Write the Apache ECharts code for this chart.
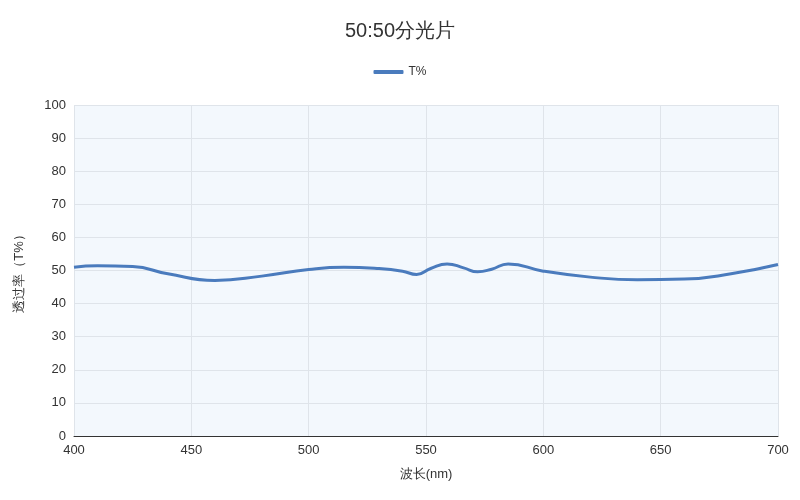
<!DOCTYPE html>
<html>
<head>
<meta charset="utf-8">
<script src="https://cdn.jsdelivr.net/npm/echarts@6/dist/echarts.min.js"></script>
<style>html,body{margin:0;padding:0;background:#fff}#chart{width:800px;height:500px}</style>
</head>
<body>
<div id="chart"></div>
<script>
// wavelength (nm) and transmittance (%)
var wavelengths = [400, 410, 425, 440, 460, 480, 500, 515, 530, 540, 546, 552, 559, 566, 572, 578, 585, 600, 620, 640, 660, 680, 700];
var transmission = [51, 51.4, 51.2, 49, 47, 48.3, 50.3, 51, 50.6, 49.8, 48.8, 50.6, 52, 50.8, 49.6, 50.4, 52, 49.8, 48, 47.2, 47.4, 49, 51.8];
var yTicks = [0, 10, 20, 30, 40, 50, 60, 70, 80, 90, 100];

var points = wavelengths.map(function(w, i) { return [w, transmission[i]]; });

var myChart = echarts.init(document.getElementById("chart"));
myChart.setOption({
    title: {
        text: "50:50分光片",
        left: "center",
        top: 16,
        textStyle: { fontSize: 20, fontWeight: "normal", color: "#333" }
    },
    legend: {
        top: 61,
        data: [{ name: "T%", icon: "roundRect" }],
        itemWidth: 30,
        itemHeight: 4,
        textStyle: { color: "#333", fontSize: 12 }
    },
    grid: {
        left: 74, right: 22, top: 105, bottom: 64,
        show: true, backgroundColor: "#f3f8fd", borderWidth: 0
    },
    xAxis: {
        type: "value",
        min: 400, max: 700, interval: 50,
        name: "波长(nm)", nameLocation: "middle", nameGap: 32,
        nameTextStyle: { color: "#333", fontSize: 13 },
        axisLine: { lineStyle: { color: "#333" } },
        axisTick: { show: false },
        axisLabel: { color: "#333", fontSize: 13 },
        splitLine: { show: true, lineStyle: { color: "#dfe4ea" } }
    },
    yAxis: {
        type: "value",
        min: yTicks[0], max: yTicks[yTicks.length - 1], interval: 10,
        name: "透过率（T%）", nameLocation: "middle", nameGap: 48,
        nameTextStyle: { color: "#333", fontSize: 13 },
        axisLine: { show: false },
        axisTick: { show: false },
        axisLabel: { color: "#333", fontSize: 13 },
        splitLine: { show: true, lineStyle: { color: "#dfe4ea" } }
    },
    series: [{
        name: "T%",
        type: "line",
        smooth: true,
        symbol: "none",
        data: points,
        lineStyle: { color: "#4a7bbd", width: 3 },
        itemStyle: { color: "#4a7bbd" }
    }]
});
</script>
</body>
</html>
